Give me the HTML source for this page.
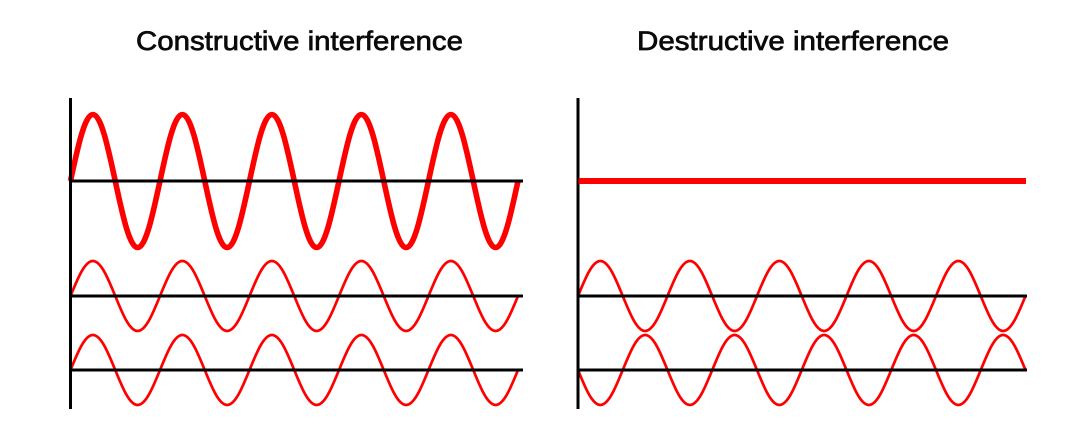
<!DOCTYPE html>
<html><head><meta charset="utf-8"><style>
html,body{margin:0;padding:0;background:#fff;width:1080px;height:432px;overflow:hidden}
svg{display:block}
text{font-family:"Liberation Sans",sans-serif;font-size:26.5px;fill:#0a0a0a;stroke:#0a0a0a;stroke-width:.7}
</style></head><body>
<svg width="1080" height="432" viewBox="0 0 1080 432" xmlns="http://www.w3.org/2000/svg">
<rect width="1080" height="432" fill="#fff"/>
<text x="136" y="50" textLength="327" lengthAdjust="spacingAndGlyphs">Constructive interference</text>
<text x="637" y="50" textLength="312" lengthAdjust="spacingAndGlyphs">Destructive interference</text>
<g fill="none" stroke="#f00" stroke-linecap="butt">
<path stroke-width="5.6" d="M70.5 181c7.3,-34.07 14.27,-66.5 22.375,-66.5c8.1,0 15.07,32.43 22.375,66.5c7.3,34.07 14.27,66.5 22.375,66.5c8.1,0 15.07,-32.43 22.375,-66.5c7.3,-34.07 14.27,-66.5 22.375,-66.5c8.1,0 15.07,32.43 22.375,66.5c7.3,34.07 14.27,66.5 22.375,66.5c8.1,0 15.07,-32.43 22.375,-66.5c7.3,-34.07 14.27,-66.5 22.375,-66.5c8.1,0 15.07,32.43 22.375,66.5c7.3,34.07 14.27,66.5 22.375,66.5c8.1,0 15.07,-32.43 22.375,-66.5c7.3,-34.07 14.27,-66.5 22.375,-66.5c8.1,0 15.07,32.43 22.375,66.5c7.3,34.07 14.27,66.5 22.375,66.5c8.1,0 15.07,-32.43 22.375,-66.5c7.3,-34.07 14.27,-66.5 22.375,-66.5c8.1,0 15.07,32.43 22.375,66.5c7.3,34.07 14.27,66.5 22.375,66.5c8.1,0 15.07,-32.43 22.375,-66.5"/>
<path stroke-width="2.7" d="M70.5 296c7.3,-17.93 14.27,-35 22.375,-35c8.1,0 15.07,17.07 22.375,35c7.3,17.93 14.27,35 22.375,35c8.1,0 15.07,-17.07 22.375,-35c7.3,-17.93 14.27,-35 22.375,-35c8.1,0 15.07,17.07 22.375,35c7.3,17.93 14.27,35 22.375,35c8.1,0 15.07,-17.07 22.375,-35c7.3,-17.93 14.27,-35 22.375,-35c8.1,0 15.07,17.07 22.375,35c7.3,17.93 14.27,35 22.375,35c8.1,0 15.07,-17.07 22.375,-35c7.3,-17.93 14.27,-35 22.375,-35c8.1,0 15.07,17.07 22.375,35c7.3,17.93 14.27,35 22.375,35c8.1,0 15.07,-17.07 22.375,-35c7.3,-17.93 14.27,-35 22.375,-35c8.1,0 15.07,17.07 22.375,35c7.3,17.93 14.27,35 22.375,35c8.1,0 15.07,-17.07 22.375,-35"/>
<path stroke-width="2.7" d="M70.5 370c7.3,-17.93 14.27,-35 22.375,-35c8.1,0 15.07,17.07 22.375,35c7.3,17.93 14.27,35 22.375,35c8.1,0 15.07,-17.07 22.375,-35c7.3,-17.93 14.27,-35 22.375,-35c8.1,0 15.07,17.07 22.375,35c7.3,17.93 14.27,35 22.375,35c8.1,0 15.07,-17.07 22.375,-35c7.3,-17.93 14.27,-35 22.375,-35c8.1,0 15.07,17.07 22.375,35c7.3,17.93 14.27,35 22.375,35c8.1,0 15.07,-17.07 22.375,-35c7.3,-17.93 14.27,-35 22.375,-35c8.1,0 15.07,17.07 22.375,35c7.3,17.93 14.27,35 22.375,35c8.1,0 15.07,-17.07 22.375,-35c7.3,-17.93 14.27,-35 22.375,-35c8.1,0 15.07,17.07 22.375,35c7.3,17.93 14.27,35 22.375,35c8.1,0 15.07,-17.07 22.375,-35"/>
<path stroke-width="2.7" d="M578 296c7.3,-17.93 14.27,-35 22.375,-35c8.1,0 15.07,17.07 22.375,35c7.3,17.93 14.27,35 22.375,35c8.1,0 15.07,-17.07 22.375,-35c7.3,-17.93 14.27,-35 22.375,-35c8.1,0 15.07,17.07 22.375,35c7.3,17.93 14.27,35 22.375,35c8.1,0 15.07,-17.07 22.375,-35c7.3,-17.93 14.27,-35 22.375,-35c8.1,0 15.07,17.07 22.375,35c7.3,17.93 14.27,35 22.375,35c8.1,0 15.07,-17.07 22.375,-35c7.3,-17.93 14.27,-35 22.375,-35c8.1,0 15.07,17.07 22.375,35c7.3,17.93 14.27,35 22.375,35c8.1,0 15.07,-17.07 22.375,-35c7.3,-17.93 14.27,-35 22.375,-35c8.1,0 15.07,17.07 22.375,35c7.3,17.93 14.27,35 22.375,35c8.1,0 15.07,-17.07 22.375,-35"/>
<path stroke-width="2.7" d="M578 370c7.3,17.93 14.27,35 22.375,35c8.1,0 15.07,-17.07 22.375,-35c7.3,-17.93 14.27,-35 22.375,-35c8.1,0 15.07,17.07 22.375,35c7.3,17.93 14.27,35 22.375,35c8.1,0 15.07,-17.07 22.375,-35c7.3,-17.93 14.27,-35 22.375,-35c8.1,0 15.07,17.07 22.375,35c7.3,17.93 14.27,35 22.375,35c8.1,0 15.07,-17.07 22.375,-35c7.3,-17.93 14.27,-35 22.375,-35c8.1,0 15.07,17.07 22.375,35c7.3,17.93 14.27,35 22.375,35c8.1,0 15.07,-17.07 22.375,-35c7.3,-17.93 14.27,-35 22.375,-35c8.1,0 15.07,17.07 22.375,35c7.3,17.93 14.27,35 22.375,35c8.1,0 15.07,-17.07 22.375,-35c7.3,-17.93 14.27,-35 22.375,-35c8.1,0 15.07,17.07 22.375,35"/>
</g>
<g stroke="#000" stroke-width="3" fill="none">
<path d="M70.5 98V409"/>
<path d="M70 181H523"/>
<path d="M70 296H523"/>
<path d="M70 370H523"/>
<path d="M578 98V409"/>
<path d="M578 296H1027"/>
<path d="M578 370H1027"/>
</g>
<rect x="578.5" y="178" width="447.5" height="6" fill="#f00"/>
</svg>
</body></html>
